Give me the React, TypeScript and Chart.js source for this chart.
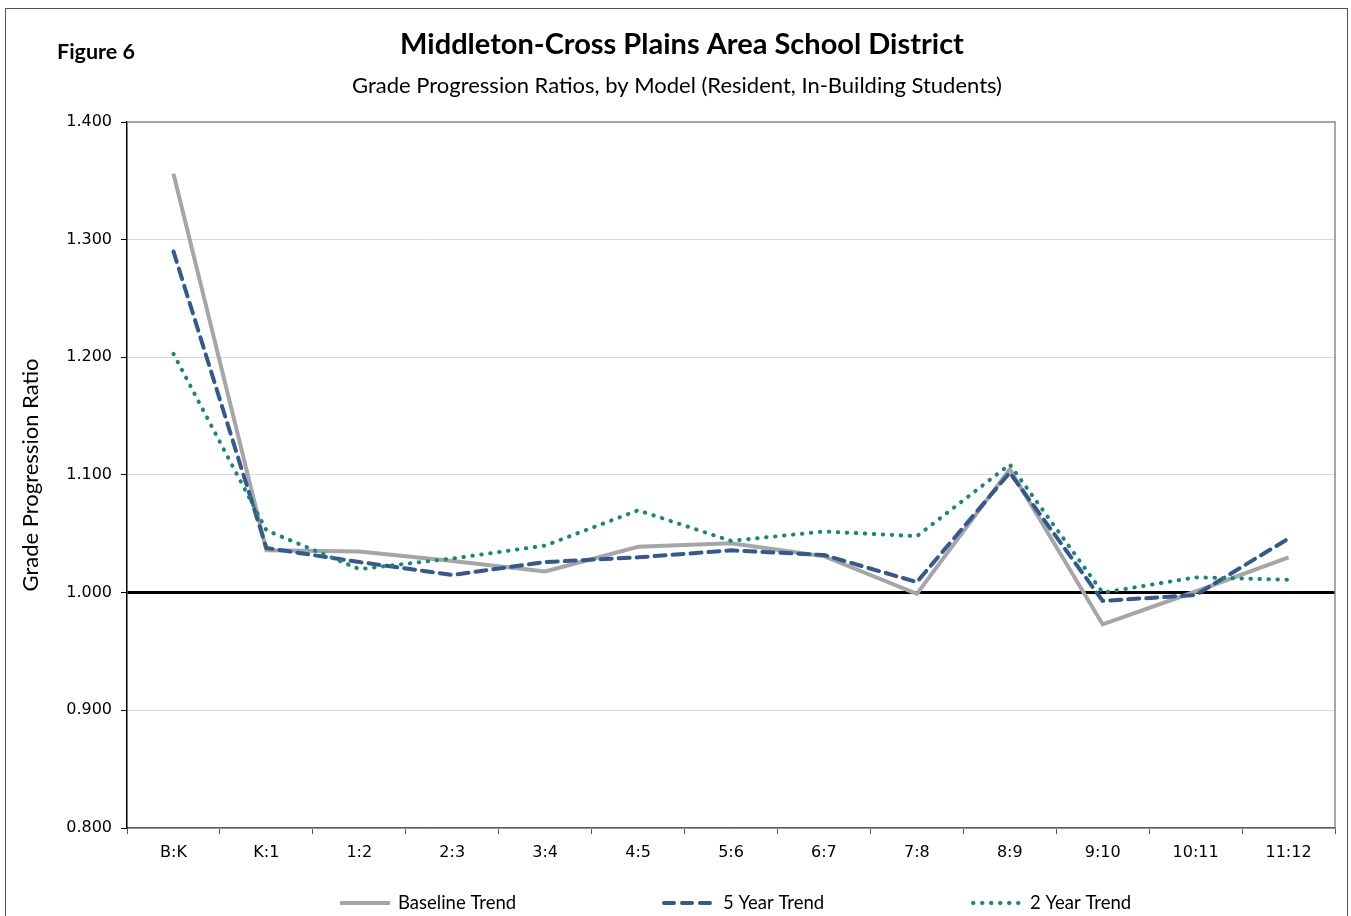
import React, { useEffect, useRef } from "react";
import { Chart, registerables } from "chart.js";

Chart.register(...registerables);

const categories = ["B:K", "K:1", "1:2", "2:3", "3:4", "4:5", "5:6", "6:7", "7:8", "8:9", "9:10", "10:11", "11:12"];
const baselineTrend = [1.356, 1.036, 1.035, 1.027, 1.018, 1.039, 1.042, 1.031, 0.999, 1.105, 0.973, 1.001, 1.030];
const fiveYearTrend = [1.290, 1.038, 1.026, 1.015, 1.026, 1.030, 1.036, 1.032, 1.009, 1.102, 0.993, 0.998, 1.046];
const twoYearTrend = [1.203, 1.053, 1.020, 1.029, 1.040, 1.070, 1.044, 1.052, 1.048, 1.109, 1.000, 1.013, 1.011];
const seriesNames = ["Baseline Trend", "5 Year Trend", "2 Year Trend"];
const yTickMin = 0.8;
const yTickMax = 1.4;
const yTickStep = 0.1;
const figureLabel = "Figure 6";
const titleText = "Middleton-Cross Plains Area School District";
const subtitleText = "Grade Progression Ratios, by Model (Resident, In-Building Students)";
const yAxisTitle = "Grade Progression Ratio";

const W = 1351;
const H = 916;
const UI_FONT = "Lato, 'Open Sans', sans-serif";
const TICK_FONT = "'DejaVu Sans', Verdana, sans-serif";

const overlayPlugin = {
  id: "overlay",
  beforeDatasetsDraw(chart: any) {
    const { ctx, chartArea } = chart;
    ctx.save();
    ctx.strokeStyle = "#8c8c8c";
    ctx.lineWidth = 1.5;
    ctx.beginPath();
    ctx.moveTo(chartArea.left, chartArea.top);
    ctx.lineTo(chartArea.right, chartArea.top);
    ctx.lineTo(chartArea.right, chartArea.bottom);
    ctx.stroke();
    ctx.restore();
  },
  afterDraw(chart: any) {
    const { ctx } = chart;
    ctx.save();
    ctx.fillStyle = "#000";
    ctx.textBaseline = "middle";
    ctx.textAlign = "left";
    ctx.font = `bold 21.5px ${UI_FONT}`;
    ctx.fillText(figureLabel, 57, 52);
    ctx.textAlign = "center";
    ctx.font = `bold 29px ${UI_FONT}`;
    ctx.fillText(titleText, 682, 45);
    ctx.font = `22px ${UI_FONT}`;
    ctx.fillText(subtitleText, 677, 86);

    // legend
    const legendY = 903;
    const items = [
      { sx: 340, ex: 390, tx: 398 },
      { sx: 664, ex: 714, tx: 723 },
      { sx: 973, ex: 1022, tx: 1030 },
    ];
    chart.data.datasets.forEach((ds: any, i: number) => {
      const it = items[i];
      ctx.save();
      ctx.strokeStyle = ds.borderColor;
      ctx.lineWidth = ds.borderWidth;
      ctx.lineCap = ds.borderCapStyle || "butt";
      ctx.setLineDash(ds.legendDash || []);
      ctx.beginPath();
      ctx.moveTo(it.sx, legendY);
      ctx.lineTo(it.ex, legendY);
      ctx.stroke();
      ctx.restore();
      ctx.textAlign = "left";
      ctx.font = `18.5px ${UI_FONT}`;
      ctx.fillStyle = "#000";
      ctx.fillText(ds.label, it.tx, legendY);
    });
    ctx.restore();
  },
};

export default function App() {
  const canvasRef = useRef<HTMLCanvasElement | null>(null);

  useEffect(() => {
    const canvas = canvasRef.current;
    if (!canvas) return;
    const isOne = (v: number) => Math.abs(v - 1) < 1e-9;
    const chart = new Chart(canvas, {
      type: "line",
      data: {
        labels: categories,
        datasets: [
          {
            label: seriesNames[0],
            data: baselineTrend,
            borderColor: "#a6a6a6",
            borderWidth: 4,
            pointRadius: 0,
            tension: 0,
            order: 3,
            borderJoinStyle: "miter",
          } as any,
          {
            label: seriesNames[1],
            data: fiveYearTrend,
            borderColor: "#33598f",
            borderWidth: 4,
            borderDash: [11, 7],
            borderCapStyle: "round",
            legendDash: [10, 8],
            pointRadius: 0,
            tension: 0,
            order: 2,
          } as any,
          {
            label: seriesNames[2],
            data: twoYearTrend,
            borderColor: "#17877a",
            borderWidth: 4,
            borderDash: [0.5, 8.5],
            borderCapStyle: "round",
            legendDash: [0.5, 8.5],
            pointRadius: 0,
            tension: 0,
            order: 1,
          } as any,
        ],
      },
      options: {
        responsive: false,
        animation: false,
        devicePixelRatio: 1,
        layout: { padding: { top: 122, right: 16, left: 0, bottom: 0 } },
        plugins: {
          legend: { display: false },
          title: { display: false },
          tooltip: { enabled: false },
        },
        scales: {
          x: {
            offset: true,
            afterFit: (scale: any) => {
              scale.height = 88;
            },
            grid: {
              offset: true,
              drawOnChartArea: false,
              drawTicks: true,
              tickLength: 6,
              tickColor: "#595959",
              color: "#595959",
            },
            border: { display: true, color: "#595959", width: 1.5 },
            ticks: {
              color: "#000",
              font: { family: TICK_FONT, size: 16 },
              padding: 9,
              maxRotation: 0,
              autoSkip: false,
            },
          },
          y: {
            min: yTickMin,
            max: yTickMax,
            afterFit: (scale: any) => {
              scale.width = 127;
            },
            grid: {
              color: (c: any) => (c.tick && isOne(c.tick.value) ? "#000" : "#d9d9d9"),
              lineWidth: (c: any) => (c.tick && isOne(c.tick.value) ? 3 : 1),
              tickColor: "#000",
              tickWidth: 1,
              tickLength: 6,
            },
            border: { display: true, color: "#000", width: 1.5 },
            ticks: {
              stepSize: yTickStep,
              color: "#000",
              font: { family: TICK_FONT, size: 16 },
              padding: 9,
              callback: (v: any) => Number(v).toFixed(3),
            },
            title: {
              display: true,
              text: yAxisTitle,
              color: "#000",
              font: { family: UI_FONT, size: 22 },
              padding: { top: 18, bottom: 0 },
            },
          },
        },
      },
      plugins: [overlayPlugin],
    });
    return () => chart.destroy();
  }, []);

  return (
    <div
      style={{
        position: "fixed",
        left: 0,
        top: 0,
        width: W,
        height: H,
        overflow: "hidden",
        background: "#fff",
      }}
    >
      <div
        style={{
          position: "absolute",
          left: 5,
          top: 8,
          width: 1343,
          height: 1000,
          border: "1.5px solid #555",
          boxSizing: "border-box",
        }}
      />
      <canvas
        ref={canvasRef}
        width={W}
        height={H}
        style={{ position: "absolute", left: 0, top: 0, width: W, height: H }}
      />
    </div>
  );
}
